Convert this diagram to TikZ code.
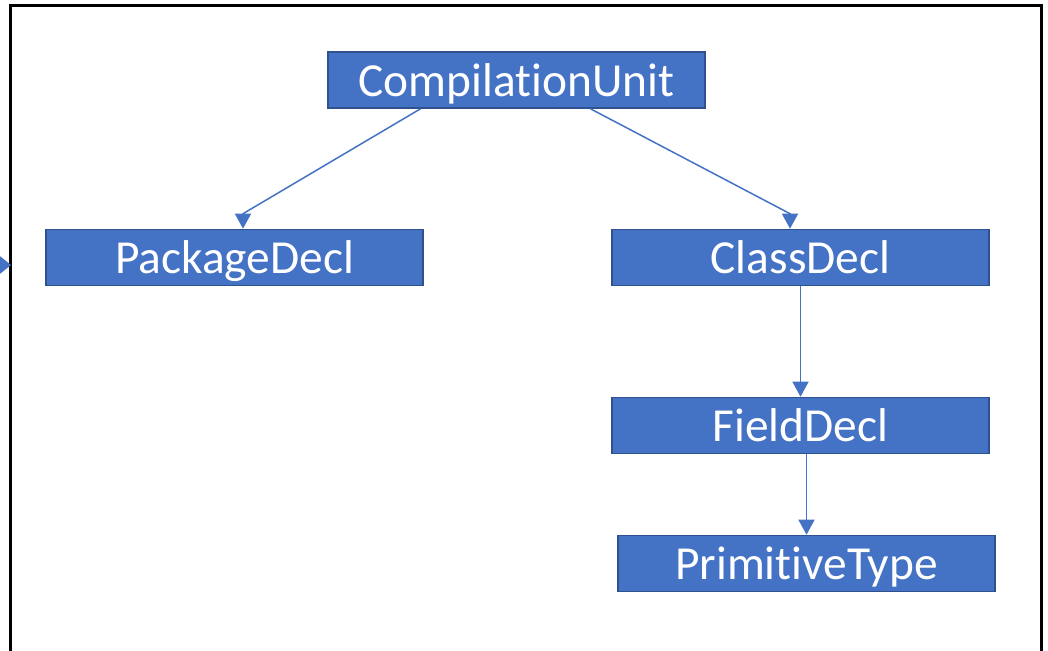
\documentclass[tikz,border=0pt]{standalone}
\usepackage{fontspec}
\setmainfont[Ligatures=NoCommon]{Carlito}
\usetikzlibrary{arrows.meta,calc}
\definecolor{boxfill}{HTML}{4472C4}
\definecolor{boxline}{HTML}{2F528F}
\begin{document}
\begin{tikzpicture}[x=1pt,y=-1pt,
  box/.style={draw=boxline,line width=1.6pt,fill=boxfill,text=white,
    minimum width=377pt,minimum height=56pt,inner sep=0pt,
    text height=36pt,text depth=4pt,
    font=\fontsize{47.4}{57}\selectfont},
  arr/.style={draw=boxfill,line width=1.5pt,-{Triangle[length=15pt,width=16pt]}}]
\useasboundingbox (0,0) rectangle (1048,650);
\fill[white] (0,0) rectangle (1048,650);
% frame
\draw[line width=3pt,black] (10.5,652) -- (10.5,5.5) -- (1041.5,5.5) -- (1041.5,652);
% partial triangle at left edge
\fill[boxfill] (-4,253) -- (11,265) -- (-4,277) -- cycle;
% nodes
\node[box] (cu) at (516.5,80) {CompilationUnit};
\node[box] (pk) at (234.5,257.5) {PackageDecl};
\node[box] (cd) at (800.5,257.5) {ClassDecl};
\node[box] (fd) at (800.5,425.5) {FieldDecl};
\node[box] (pt) at (806.5,563.5) {PrimitiveType};
% connectors
\draw[arr] ($(cu.south)+(-96,0)$) -- ($(pk.north)+(8.5,-15)$) -- ($(pk.north)+(8.5,0)$);
\draw[arr] ($(cu.south)+(74,0)$) -- ($(cd.north)+(-10.5,-15)$) -- ($(cd.north)+(-10.5,0)$);
\draw[arr] (cd.south) -- (fd.north);
\draw[arr] ($(fd.south)+(6,0)$) -- (pt.north);
\end{tikzpicture}
\end{document}
